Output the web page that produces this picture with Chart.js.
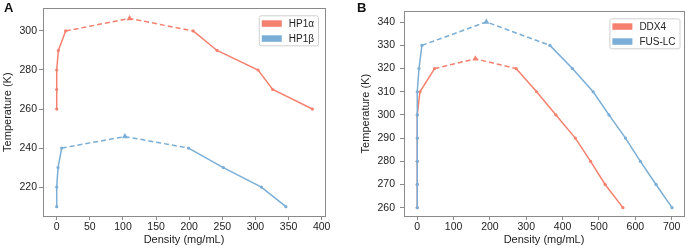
<!DOCTYPE html>
<html>
<head>
<meta charset="utf-8">
<script src="https://cdn.jsdelivr.net/npm/chart.js@4.4.1/dist/chart.umd.min.js"></script>
<style>
  body { margin: 0; background: #fff; }
  .panel { position: absolute; top: 0; width: 344px; height: 249px; }
  .lbl { position: absolute; top: 0; font: bold 13px "Liberation Sans", Arial, sans-serif; color: #111; }
</style>
</head>
<body>
<div class="panel" style="left:0"><canvas id="chartA"></canvas></div>
<div class="panel" style="left:344px"><canvas id="chartB"></canvas></div>
<div class="lbl" style="left:4px">A</div>
<div class="lbl" style="left:357px">B</div>
<script>
// panel A
const hp1aDensity = [0, 0, 0, 2.5, 13.5, 110, 206, 242, 304, 326, 386];
const hp1aTemp    = [260, 270, 280, 290, 300, 306.4, 300, 290, 280, 270, 260];
const hp1bDensity = [0, 0, 2, 7.5, 103, 199, 251.5, 309, 346];
const hp1bTemp    = [210, 220, 230, 240, 245.9, 240, 230, 220, 210];
const xTicksA = [0, 50, 100, 150, 200, 250, 300, 350, 400];
const yTicksA = [220, 240, 260, 280, 300];

// panel B
const ddx4Density = [0, 0, 0, 0, 0, 7.4, 47.5, 160, 272, 328.5, 381.6, 435, 477, 517, 566];
const ddx4Temp    = [260, 270, 280, 290, 300, 310, 320, 324.2, 320, 310, 300, 290, 280, 270, 260];
const fusDensity  = [0, 0, 0, 0, 0, 0, 4.7, 12.8, 190, 365, 427, 484, 527.5, 573, 614, 657, 701];
const fusTemp     = [260, 270, 280, 290, 300, 310, 320, 330, 340.1, 330, 320, 310, 300, 290, 280, 270, 260];
const xTicksB = [0, 100, 200, 300, 400, 500, 600, 700];
const yTicksB = [260, 270, 280, 290, 300, 310, 320, 330, 340];

const RED = '#f6806f';
const BLUE = '#7aaed6';
const FONT = '"Liberation Sans", Arial, sans-serif';

function pts(xs, ys) {
  return xs.map((x, i) => ({x: x, y: ys[i]}));
}

// the two segments next to the critical point are dashed
function series(label, xs, ys, color, order) {
  let peak = ys.indexOf(Math.max(...ys));
  return {
    label: label,
    data: pts(xs, ys),
    borderColor: color,
    backgroundColor: color,
    borderWidth: 1.5,
    tension: 0,
    order: order,
    pointStyle: ctx => ctx.dataIndex === peak ? 'triangle' : 'circle',
    pointRadius: ctx => ctx.dataIndex === peak ? 3.5 : 1.6,
    pointBorderWidth: 0,
    segment: {
      borderDash: ctx => (ctx.p0DataIndex === peak - 1 || ctx.p0DataIndex === peak) ? [5, 3] : undefined
    }
  };
}

const frameAndLegend = {
  id: 'frameAndLegend',
  afterDraw(chart, args, opts) {
    const c = chart.ctx, a = chart.chartArea;
    c.save();
    c.strokeStyle = '#8a8a8a';
    c.lineWidth = 1;
    c.strokeRect(Math.round(a.left) + 0.5, Math.round(a.top) + 0.5, Math.round(a.right - a.left), Math.round(a.bottom - a.top));
    // legend
    c.font = '10px ' + FONT;
    const sets = chart.data.datasets;
    let tw = Math.max(...sets.map(d => c.measureText(d.label).width));
    let w = 3 + 20 + 7 + tw + 4, h = 30;
    let x0 = a.right - opts.inset - w, y0 = a.top + 7;
    c.beginPath();
    c.roundRect(x0 + 0.5, y0 + 0.5, w, h, 2);
    c.fillStyle = 'rgba(255,255,255,0.9)';
    c.fill();
    c.strokeStyle = '#d0d0d0';
    c.stroke();
    sets.forEach((d, i) => {
      let yy = y0 + 5 + i * 15;
      c.fillStyle = d.borderColor;
      c.fillRect(x0 + 3, yy, 20, 6.5);
      c.fillStyle = '#222';
      c.textBaseline = 'middle';
      c.fillText(d.label, x0 + 30, yy + 3.5);
    });
    c.restore();
  }
};

function makeChart(id, datasets, xr, yr, xt, yt, yw, yTitlePad, yTickPad, pad, inset) {
  return new Chart(document.getElementById(id), {
    type: 'line',
    data: { datasets: datasets },
    plugins: [frameAndLegend],
    options: {
      responsive: true,
      maintainAspectRatio: false,
      animation: false,
      layout: { padding: pad },
      plugins: {
        legend: { display: false },
        tooltip: { enabled: false },
        frameAndLegend: { inset: inset }
      },
      scales: {
        x: {
          type: 'linear',
          min: xr[0], max: xr[1],
          afterBuildTicks: s => { s.ticks = xt.map(v => ({value: v})); },
          afterFit: s => { s.height = 33; },
          grid: { drawOnChartArea: false, tickLength: 4, color: '#8a8a8a' },
          border: { color: '#8a8a8a' },
          ticks: { color: '#222', font: { family: FONT, size: 10.5 }, padding: 1, maxRotation: 0 },
          title: { display: true, text: 'Density (mg/mL)', color: '#222', font: { family: FONT, size: 11 }, padding: { top: 0, bottom: 2 } }
        },
        y: {
          type: 'linear',
          min: yr[0], max: yr[1],
          afterBuildTicks: s => { s.ticks = yt.map(v => ({value: v})); },
          afterFit: s => { s.width = yw; },
          grid: { drawOnChartArea: false, tickLength: 4, color: '#8a8a8a' },
          border: { color: '#8a8a8a' },
          ticks: { color: '#222', font: { family: FONT, size: 10.5 }, padding: yTickPad },
          title: { display: true, text: 'Temperature (K)', color: '#222', font: { family: FONT, size: 11 }, padding: { top: yTitlePad, bottom: 0 } }
        }
      }
    }
  });
}

makeChart('chartA',
  [series('HP1α', hp1aDensity, hp1aTemp, RED, 1), series('HP1β', hp1bDensity, hp1bTemp, BLUE, 0)],
  [-20.7, 405], [205.2, 311.6], xTicksA, yTicksA, 43, 1.5, 2,
  { top: 5, right: 19, left: 0, bottom: 0 }, 7);

makeChart('chartB',
  [series('DDX4', ddx4Density, ddx4Temp, RED, 1), series('FUS-LC', fusDensity, fusTemp, BLUE, 0)],
  [-36.5, 734], [256.4, 344.7], xTicksB, yTicksB, 60, 15.5, 5,
  { top: 5, right: 2, left: 0, bottom: 0 }, 4.5);
</script>
</body>
</html>
